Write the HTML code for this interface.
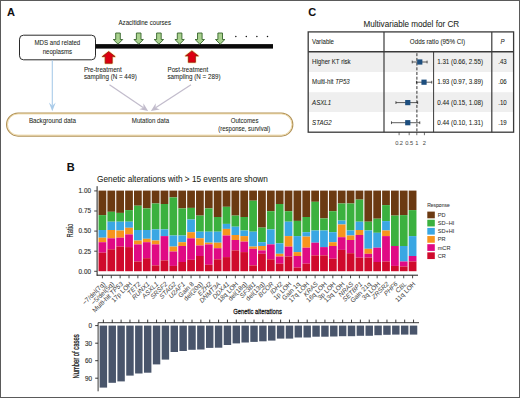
<!DOCTYPE html>
<html><head><meta charset="utf-8"><style>
html,body{margin:0;padding:0;background:#fff;}
body{width:520px;height:398px;overflow:hidden;position:relative;}
svg{position:absolute;left:0;top:0;font-family:"Liberation Sans", sans-serif;}
.frame{position:absolute;left:0;top:0;width:518px;height:396px;border:1px solid #5a5a5a;}
</style></head><body>
<svg width="520" height="398" viewBox="0 0 520 398">
<text x="6.9" y="16.2" font-size="11" text-anchor="start" font-weight="bold" font-style="normal" fill="#111" stroke="#111" stroke-width="0.06" >A</text>
<rect x="19.5" y="35.2" width="76" height="24.6" rx="4" ry="4" fill="#fff" stroke="#2a2a2a" stroke-width="1"/>
<text x="57.4" y="45.4" font-size="6.55" text-anchor="middle" font-weight="normal" font-style="normal" fill="#231f20" stroke="#231f20" stroke-width="0.06" textLength="45.77" lengthAdjust="spacingAndGlyphs" >MDS and related</text>
<text x="57.4" y="53.5" font-size="6.55" text-anchor="middle" font-weight="normal" font-style="normal" fill="#231f20" stroke="#231f20" stroke-width="0.06" textLength="29.50" lengthAdjust="spacingAndGlyphs" >neoplasms</text>
<rect x="95.5" y="44.1" width="177.5" height="4.5" fill="#0a0a0a"/>
<text x="144.8" y="25.2" font-size="6.55" text-anchor="middle" font-weight="normal" font-style="normal" fill="#231f20" stroke="#231f20" stroke-width="0.06" textLength="52.55" lengthAdjust="spacingAndGlyphs" >Azacitidine courses</text>
<path d="M115.7,33.0 L120.3,33.0 L120.3,39.5 L122.7,39.5 L118.0,44.2 L113.3,39.5 L115.7,39.5 Z" fill="#a9d18e" stroke="#35652a" stroke-width="0.9"/>
<path d="M136.39999999999998,33.0 L141.0,33.0 L141.0,39.5 L143.39999999999998,39.5 L138.7,44.2 L134.0,39.5 L136.39999999999998,39.5 Z" fill="#a9d18e" stroke="#35652a" stroke-width="0.9"/>
<path d="M156.6,33.0 L161.20000000000002,33.0 L161.20000000000002,39.5 L163.6,39.5 L158.9,44.2 L154.20000000000002,39.5 L156.6,39.5 Z" fill="#a9d18e" stroke="#35652a" stroke-width="0.9"/>
<path d="M177.29999999999998,33.0 L181.9,33.0 L181.9,39.5 L184.29999999999998,39.5 L179.6,44.2 L174.9,39.5 L177.29999999999998,39.5 Z" fill="#a9d18e" stroke="#35652a" stroke-width="0.9"/>
<path d="M197.5,33.0 L202.10000000000002,33.0 L202.10000000000002,39.5 L204.5,39.5 L199.8,44.2 L195.10000000000002,39.5 L197.5,39.5 Z" fill="#a9d18e" stroke="#35652a" stroke-width="0.9"/>
<path d="M217.89999999999998,33.0 L222.5,33.0 L222.5,39.5 L224.89999999999998,39.5 L220.2,44.2 L215.5,39.5 L217.89999999999998,39.5 Z" fill="#a9d18e" stroke="#35652a" stroke-width="0.9"/>
<circle cx="235.8" cy="36.6" r="0.75" fill="#111"/>
<circle cx="246.3" cy="36.6" r="0.75" fill="#111"/>
<circle cx="256.9" cy="36.6" r="0.75" fill="#111"/>
<circle cx="267.5" cy="36.6" r="0.75" fill="#111"/>
<path d="M108.7,51.6 L115.10000000000001,56.6 L112.2,56.6 L112.2,63.3 L105.2,63.3 L105.2,56.6 L102.3,56.6 Z" fill="none" stroke="#fde9a6" stroke-width="2.2" stroke-linejoin="round" opacity="0.85"/>
<path d="M108.7,51.6 L115.10000000000001,56.6 L112.2,56.6 L112.2,63.3 L105.2,63.3 L105.2,56.6 L102.3,56.6 Z" fill="#dc0010" stroke="#8e1405" stroke-width="0.75" stroke-linejoin="miter"/>
<path d="M191.9,50.9 L198.3,55.9 L195.4,55.9 L195.4,62.3 L188.4,62.3 L188.4,55.9 L185.5,55.9 Z" fill="none" stroke="#fde9a6" stroke-width="2.2" stroke-linejoin="round" opacity="0.85"/>
<path d="M191.9,50.9 L198.3,55.9 L195.4,55.9 L195.4,62.3 L188.4,62.3 L188.4,55.9 L185.5,55.9 Z" fill="#dc0010" stroke="#8e1405" stroke-width="0.75" stroke-linejoin="miter"/>
<text x="83.9" y="72.0" font-size="6.55" text-anchor="start" font-weight="normal" font-style="normal" fill="#231f20" stroke="#231f20" stroke-width="0.06" textLength="37.90" lengthAdjust="spacingAndGlyphs" >Pre-treatment</text>
<text x="83.9" y="79.0" font-size="6.55" text-anchor="start" font-weight="normal" font-style="normal" fill="#231f20" stroke="#231f20" stroke-width="0.06" textLength="52.98" lengthAdjust="spacingAndGlyphs" >sampling (N = 449)</text>
<text x="167.5" y="72.0" font-size="6.55" text-anchor="start" font-weight="normal" font-style="normal" fill="#231f20" stroke="#231f20" stroke-width="0.06" textLength="40.66" lengthAdjust="spacingAndGlyphs" >Post-treatment</text>
<text x="167.5" y="79.0" font-size="6.55" text-anchor="start" font-weight="normal" font-style="normal" fill="#231f20" stroke="#231f20" stroke-width="0.06" textLength="52.98" lengthAdjust="spacingAndGlyphs" >sampling (N = 289)</text>
<line x1="52.3" y1="60.2" x2="52.30" y2="105.70" stroke="#a9cbe9" stroke-width="1.1"/>
<path d="M52.30,111.20 L48.90,102.60 L52.30,105.70 L55.70,102.60 Z" fill="#a9cbe9"/>
<line x1="109.5" y1="84.8" x2="143.46" y2="107.76" stroke="#c2bccc" stroke-width="1.25"/>
<path d="M148.10,110.90 L139.23,109.37 L143.46,107.76 L143.38,103.24 Z" fill="#c2bccc"/>
<line x1="191" y1="84.8" x2="155.59" y2="107.85" stroke="#c2bccc" stroke-width="1.25"/>
<path d="M150.90,110.90 L155.75,103.33 L155.59,107.85 L159.79,109.53 Z" fill="#c2bccc"/>
<rect x="6.6" y="113.0" width="286.2" height="23.0" rx="11.5" ry="11.5" fill="none" stroke="#b39459" stroke-width="1.25"/>
<rect x="7.5" y="113.9" width="284.4" height="21.2" rx="10.6" ry="10.6" fill="none" stroke="#ead196" stroke-width="0.8"/>
<text x="28.9" y="123.0" font-size="6.55" text-anchor="start" font-weight="normal" font-style="normal" fill="#231f20" stroke="#231f20" stroke-width="0.06" textLength="47.03" lengthAdjust="spacingAndGlyphs" >Background data</text>
<text x="131.8" y="123.2" font-size="6.55" text-anchor="start" font-weight="normal" font-style="normal" fill="#231f20" stroke="#231f20" stroke-width="0.06" textLength="37.27" lengthAdjust="spacingAndGlyphs" >Mutation data</text>
<text x="244.6" y="122.95" font-size="6.55" text-anchor="middle" font-weight="normal" font-style="normal" fill="#231f20" stroke="#231f20" stroke-width="0.06" textLength="27.80" lengthAdjust="spacingAndGlyphs" >Outcomes</text>
<text x="244.3" y="130.6" font-size="6.55" text-anchor="middle" font-weight="normal" font-style="normal" fill="#231f20" stroke="#231f20" stroke-width="0.06" textLength="51.91" lengthAdjust="spacingAndGlyphs" >(response, survival)</text>
<text x="308.2" y="16.2" font-size="11" text-anchor="start" font-weight="bold" font-style="normal" fill="#111" stroke="#111" stroke-width="0.06" >C</text>
<text x="411.3" y="26.6" font-size="8.6" text-anchor="middle" font-weight="normal" font-style="normal" fill="#231f20" stroke="#231f20" stroke-width="0.06" textLength="95.67" lengthAdjust="spacingAndGlyphs" >Multivariable model for CR</text>
<rect x="308.3" y="52.2" width="205.2" height="20" fill="#efefef"/>
<rect x="308.3" y="72.2" width="205.2" height="20" fill="#ffffff"/>
<rect x="308.3" y="92.2" width="205.2" height="20" fill="#efefef"/>
<rect x="308.3" y="112.2" width="205.2" height="20" fill="#ffffff"/>
<line x1="416.9" y1="53.2" x2="416.9" y2="132" stroke="#2a2a2a" stroke-width="0.95" stroke-dasharray="3.0,1.7"/>
<line x1="412.23" y1="62.0" x2="427.10" y2="62.0" stroke="#1a1a1a" stroke-width="0.7"/>
<line x1="412.23" y1="60.6" x2="412.23" y2="63.4" stroke="#1a1a1a" stroke-width="0.7"/>
<line x1="427.10" y1="60.6" x2="427.10" y2="63.4" stroke="#1a1a1a" stroke-width="0.7"/>
<rect x="417.17" y="59.4" width="5.2" height="5.2" fill="#1d4e7e"/>
<line x1="416.46" y1="82.2" x2="431.74" y2="82.2" stroke="#1a1a1a" stroke-width="0.7"/>
<line x1="416.46" y1="80.8" x2="416.46" y2="83.60000000000001" stroke="#1a1a1a" stroke-width="0.7"/>
<line x1="431.74" y1="80.8" x2="431.74" y2="83.60000000000001" stroke="#1a1a1a" stroke-width="0.7"/>
<rect x="421.43" y="79.60000000000001" width="5.2" height="5.2" fill="#1d4e7e"/>
<line x1="395.93" y1="102.6" x2="417.65" y2="102.6" stroke="#1a1a1a" stroke-width="0.7"/>
<line x1="395.93" y1="101.19999999999999" x2="395.93" y2="104.0" stroke="#1a1a1a" stroke-width="0.7"/>
<line x1="417.65" y1="101.19999999999999" x2="417.65" y2="104.0" stroke="#1a1a1a" stroke-width="0.7"/>
<rect x="405.17" y="100.0" width="5.2" height="5.2" fill="#1d4e7e"/>
<line x1="391.47" y1="122.7" x2="419.77" y2="122.7" stroke="#1a1a1a" stroke-width="0.7"/>
<line x1="391.47" y1="121.3" x2="391.47" y2="124.10000000000001" stroke="#1a1a1a" stroke-width="0.7"/>
<line x1="419.77" y1="121.3" x2="419.77" y2="124.10000000000001" stroke="#1a1a1a" stroke-width="0.7"/>
<rect x="405.17" y="120.10000000000001" width="5.2" height="5.2" fill="#1d4e7e"/>
<rect x="308.2" y="31.9" width="205.4" height="100.3" fill="none" stroke="#3a3a3a" stroke-width="1.3"/>
<line x1="308.2" y1="51.7" x2="513.6" y2="51.7" stroke="#3a3a3a" stroke-width="1.5"/>
<line x1="384" y1="31.9" x2="384" y2="132.2" stroke="#3a3a3a" stroke-width="1.2"/>
<line x1="491.8" y1="31.9" x2="491.8" y2="132.2" stroke="#3a3a3a" stroke-width="1.2"/>
<line x1="433.6" y1="51.7" x2="433.6" y2="132.2" stroke="#3a3a3a" stroke-width="1.0"/>
<line x1="399.10" y1="132.2" x2="399.10" y2="135.2" stroke="#333" stroke-width="0.7"/>
<line x1="409.18" y1="132.2" x2="409.18" y2="135.2" stroke="#333" stroke-width="0.7"/>
<line x1="416.80" y1="132.2" x2="416.80" y2="135.2" stroke="#333" stroke-width="0.7"/>
<line x1="424.42" y1="132.2" x2="424.42" y2="135.2" stroke="#333" stroke-width="0.7"/>
<text x="399.0961829632249" y="144.8" font-size="5.7" text-anchor="middle" font-weight="normal" font-style="normal" fill="#444" stroke="#444" stroke-width="0" >0.2</text>
<text x="409.1753810138406" y="144.8" font-size="5.7" text-anchor="middle" font-weight="normal" font-style="normal" fill="#444" stroke="#444" stroke-width="0" >0.5</text>
<text x="416.8" y="144.8" font-size="5.7" text-anchor="middle" font-weight="normal" font-style="normal" fill="#444" stroke="#444" stroke-width="0" >1</text>
<text x="424.42461898615943" y="144.8" font-size="5.7" text-anchor="middle" font-weight="normal" font-style="normal" fill="#444" stroke="#444" stroke-width="0" >2</text>
<text x="312.1" y="43.9" font-size="6.55" text-anchor="start" font-weight="normal" font-style="normal" fill="#231f20" stroke="#231f20" stroke-width="0.06" textLength="21.93" lengthAdjust="spacingAndGlyphs" >Variable</text>
<text x="437.5" y="43.9" font-size="6.55" text-anchor="middle" font-weight="normal" font-style="normal" fill="#231f20" stroke="#231f20" stroke-width="0.06" textLength="55.40" lengthAdjust="spacingAndGlyphs" >Odds ratio (95% CI)</text>
<text x="502.5" y="43.9" font-size="6.55" text-anchor="middle" font-weight="normal" font-style="italic" fill="#231f20" stroke="#231f20" stroke-width="0.06" textLength="4.07" lengthAdjust="spacingAndGlyphs" >P</text>
<text x="312.1" y="64.1" font-size="6.55" fill="#231f20" stroke="#231f20" stroke-width="0.06" textLength="38.53" lengthAdjust="spacingAndGlyphs">Higher KT risk<tspan font-style="italic"></tspan></text>
<text x="437.2" y="64.1" font-size="6.55" text-anchor="start" font-weight="normal" font-style="normal" fill="#231f20" stroke="#231f20" stroke-width="0.06" textLength="45.79" lengthAdjust="spacingAndGlyphs" >1.31 (0.66, 2.55)</text>
<text x="502.5" y="64.1" font-size="6.55" text-anchor="middle" font-weight="normal" font-style="normal" fill="#231f20" stroke="#231f20" stroke-width="0.06" textLength="8.48" lengthAdjust="spacingAndGlyphs" >.43</text>
<text x="312.1" y="84.3" font-size="6.55" fill="#231f20" stroke="#231f20" stroke-width="0.06" textLength="37.63" lengthAdjust="spacingAndGlyphs">Multi-hit <tspan font-style="italic">TP53</tspan></text>
<text x="437.2" y="84.3" font-size="6.55" text-anchor="start" font-weight="normal" font-style="normal" fill="#231f20" stroke="#231f20" stroke-width="0.06" textLength="45.79" lengthAdjust="spacingAndGlyphs" >1.93 (0.97, 3.89)</text>
<text x="502.5" y="84.3" font-size="6.55" text-anchor="middle" font-weight="normal" font-style="normal" fill="#231f20" stroke="#231f20" stroke-width="0.06" textLength="8.48" lengthAdjust="spacingAndGlyphs" >.06</text>
<text x="312.1" y="104.5" font-size="6.55" fill="#231f20" stroke="#231f20" stroke-width="0.06" textLength="18.99" lengthAdjust="spacingAndGlyphs"><tspan font-style="italic">ASXL1</tspan></text>
<text x="437.2" y="104.5" font-size="6.55" text-anchor="start" font-weight="normal" font-style="normal" fill="#231f20" stroke="#231f20" stroke-width="0.06" textLength="45.79" lengthAdjust="spacingAndGlyphs" >0.44 (0.15, 1.08)</text>
<text x="502.5" y="104.5" font-size="6.55" text-anchor="middle" font-weight="normal" font-style="normal" fill="#231f20" stroke="#231f20" stroke-width="0.06" textLength="8.48" lengthAdjust="spacingAndGlyphs" >.10</text>
<text x="312.1" y="124.69999999999999" font-size="6.55" fill="#231f20" stroke="#231f20" stroke-width="0.06" textLength="19.55" lengthAdjust="spacingAndGlyphs"><tspan font-style="italic">STAG2</tspan></text>
<text x="437.2" y="124.69999999999999" font-size="6.55" text-anchor="start" font-weight="normal" font-style="normal" fill="#231f20" stroke="#231f20" stroke-width="0.06" textLength="45.79" lengthAdjust="spacingAndGlyphs" >0.44 (0.10, 1.31)</text>
<text x="502.5" y="124.69999999999999" font-size="6.55" text-anchor="middle" font-weight="normal" font-style="normal" fill="#231f20" stroke="#231f20" stroke-width="0.06" textLength="8.48" lengthAdjust="spacingAndGlyphs" >.19</text>
<text x="66.8" y="170.6" font-size="11" text-anchor="start" font-weight="bold" font-style="normal" fill="#111" stroke="#111" stroke-width="0.06" >B</text>
<text x="97.1" y="181.7" font-size="8.6" text-anchor="start" font-weight="normal" font-style="normal" fill="#231f20" stroke="#231f20" stroke-width="0.06" textLength="170.66" lengthAdjust="spacingAndGlyphs" >Genetic alterations with &gt; 15 events are shown</text>
<rect x="98.55" y="190.60" width="7.75" height="24.50" fill="#6b3a12"/>
<rect x="98.55" y="215.10" width="7.75" height="14.90" fill="#3bb13f"/>
<rect x="98.55" y="230.00" width="7.75" height="7.70" fill="#3aa7e3"/>
<rect x="98.55" y="237.70" width="7.75" height="4.50" fill="#f7941d"/>
<rect x="98.55" y="242.20" width="7.75" height="10.50" fill="#e00a84"/>
<rect x="98.55" y="252.70" width="7.75" height="18.50" fill="#cf0a2c"/>
<rect x="107.41" y="190.60" width="7.75" height="21.20" fill="#6b3a12"/>
<rect x="107.41" y="211.80" width="7.75" height="9.90" fill="#3bb13f"/>
<rect x="107.41" y="221.70" width="7.75" height="8.30" fill="#3aa7e3"/>
<rect x="107.41" y="230.00" width="7.75" height="8.30" fill="#f7941d"/>
<rect x="107.41" y="238.30" width="7.75" height="11.00" fill="#e00a84"/>
<rect x="107.41" y="249.30" width="7.75" height="21.90" fill="#cf0a2c"/>
<rect x="116.27" y="190.60" width="7.75" height="22.30" fill="#6b3a12"/>
<rect x="116.27" y="212.90" width="7.75" height="8.80" fill="#3bb13f"/>
<rect x="116.27" y="221.70" width="7.75" height="8.80" fill="#3aa7e3"/>
<rect x="116.27" y="230.50" width="7.75" height="7.20" fill="#f7941d"/>
<rect x="116.27" y="237.70" width="7.75" height="8.90" fill="#e00a84"/>
<rect x="116.27" y="246.60" width="7.75" height="24.60" fill="#cf0a2c"/>
<rect x="125.14" y="190.60" width="7.75" height="19.50" fill="#6b3a12"/>
<rect x="125.14" y="210.10" width="7.75" height="11.60" fill="#3bb13f"/>
<rect x="125.14" y="221.70" width="7.75" height="6.10" fill="#3aa7e3"/>
<rect x="125.14" y="227.80" width="7.75" height="6.60" fill="#f7941d"/>
<rect x="125.14" y="234.40" width="7.75" height="12.70" fill="#e00a84"/>
<rect x="125.14" y="247.10" width="7.75" height="24.10" fill="#cf0a2c"/>
<rect x="134.00" y="190.60" width="7.75" height="15.10" fill="#6b3a12"/>
<rect x="134.00" y="205.70" width="7.75" height="24.30" fill="#3bb13f"/>
<rect x="134.00" y="230.00" width="7.75" height="10.50" fill="#3aa7e3"/>
<rect x="134.00" y="240.50" width="7.75" height="3.90" fill="#f7941d"/>
<rect x="134.00" y="244.40" width="7.75" height="17.10" fill="#e00a84"/>
<rect x="134.00" y="261.50" width="7.75" height="9.70" fill="#cf0a2c"/>
<rect x="142.86" y="190.60" width="7.75" height="17.80" fill="#6b3a12"/>
<rect x="142.86" y="208.40" width="7.75" height="21.60" fill="#3bb13f"/>
<rect x="142.86" y="230.00" width="7.75" height="8.80" fill="#3aa7e3"/>
<rect x="142.86" y="238.80" width="7.75" height="3.40" fill="#f7941d"/>
<rect x="142.86" y="242.20" width="7.75" height="16.00" fill="#e00a84"/>
<rect x="142.86" y="258.20" width="7.75" height="13.00" fill="#cf0a2c"/>
<rect x="151.72" y="190.60" width="7.75" height="12.90" fill="#6b3a12"/>
<rect x="151.72" y="203.50" width="7.75" height="25.90" fill="#3bb13f"/>
<rect x="151.72" y="229.40" width="7.75" height="11.10" fill="#3aa7e3"/>
<rect x="151.72" y="240.50" width="7.75" height="3.90" fill="#f7941d"/>
<rect x="151.72" y="244.40" width="7.75" height="21.00" fill="#e00a84"/>
<rect x="151.72" y="265.40" width="7.75" height="5.80" fill="#cf0a2c"/>
<rect x="160.58" y="190.60" width="7.75" height="13.40" fill="#6b3a12"/>
<rect x="160.58" y="204.00" width="7.75" height="25.40" fill="#3bb13f"/>
<rect x="160.58" y="229.40" width="7.75" height="6.70" fill="#3aa7e3"/>
<rect x="160.58" y="236.10" width="7.75" height="24.30" fill="#e00a84"/>
<rect x="160.58" y="260.40" width="7.75" height="10.80" fill="#cf0a2c"/>
<rect x="169.45" y="190.60" width="7.75" height="6.80" fill="#6b3a12"/>
<rect x="169.45" y="197.40" width="7.75" height="38.10" fill="#3bb13f"/>
<rect x="169.45" y="235.50" width="7.75" height="11.10" fill="#3aa7e3"/>
<rect x="169.45" y="246.60" width="7.75" height="4.90" fill="#f7941d"/>
<rect x="169.45" y="251.50" width="7.75" height="14.40" fill="#e00a84"/>
<rect x="169.45" y="265.90" width="7.75" height="5.30" fill="#cf0a2c"/>
<rect x="178.31" y="190.60" width="7.75" height="17.80" fill="#6b3a12"/>
<rect x="178.31" y="208.40" width="7.75" height="27.10" fill="#3bb13f"/>
<rect x="178.31" y="235.50" width="7.75" height="6.70" fill="#3aa7e3"/>
<rect x="178.31" y="242.20" width="7.75" height="3.80" fill="#f7941d"/>
<rect x="178.31" y="246.00" width="7.75" height="16.00" fill="#e00a84"/>
<rect x="178.31" y="262.00" width="7.75" height="9.20" fill="#cf0a2c"/>
<rect x="187.17" y="190.60" width="7.75" height="17.30" fill="#6b3a12"/>
<rect x="187.17" y="207.90" width="7.75" height="11.60" fill="#3bb13f"/>
<rect x="187.17" y="219.50" width="7.75" height="12.70" fill="#3aa7e3"/>
<rect x="187.17" y="232.20" width="7.75" height="6.10" fill="#f7941d"/>
<rect x="187.17" y="238.30" width="7.75" height="21.50" fill="#e00a84"/>
<rect x="187.17" y="259.80" width="7.75" height="11.40" fill="#cf0a2c"/>
<rect x="196.03" y="190.60" width="7.75" height="25.00" fill="#6b3a12"/>
<rect x="196.03" y="215.60" width="7.75" height="16.10" fill="#3bb13f"/>
<rect x="196.03" y="231.70" width="7.75" height="6.60" fill="#3aa7e3"/>
<rect x="196.03" y="238.30" width="7.75" height="7.20" fill="#f7941d"/>
<rect x="196.03" y="245.50" width="7.75" height="10.50" fill="#e00a84"/>
<rect x="196.03" y="256.00" width="7.75" height="15.20" fill="#cf0a2c"/>
<rect x="204.89" y="190.60" width="7.75" height="17.80" fill="#6b3a12"/>
<rect x="204.89" y="208.40" width="7.75" height="23.30" fill="#3bb13f"/>
<rect x="204.89" y="231.70" width="7.75" height="11.00" fill="#3aa7e3"/>
<rect x="204.89" y="242.70" width="7.75" height="1.70" fill="#f7941d"/>
<rect x="204.89" y="244.40" width="7.75" height="20.40" fill="#e00a84"/>
<rect x="204.89" y="264.80" width="7.75" height="6.40" fill="#cf0a2c"/>
<rect x="213.76" y="190.60" width="7.75" height="26.40" fill="#6b3a12"/>
<rect x="213.76" y="217.00" width="7.75" height="14.70" fill="#3bb13f"/>
<rect x="213.76" y="231.70" width="7.75" height="11.00" fill="#3aa7e3"/>
<rect x="213.76" y="242.70" width="7.75" height="5.50" fill="#f7941d"/>
<rect x="213.76" y="248.20" width="7.75" height="11.10" fill="#e00a84"/>
<rect x="213.76" y="259.30" width="7.75" height="11.90" fill="#cf0a2c"/>
<rect x="222.62" y="190.60" width="7.75" height="16.20" fill="#6b3a12"/>
<rect x="222.62" y="206.80" width="7.75" height="17.10" fill="#3bb13f"/>
<rect x="222.62" y="223.90" width="7.75" height="5.00" fill="#3aa7e3"/>
<rect x="222.62" y="228.90" width="7.75" height="6.60" fill="#f7941d"/>
<rect x="222.62" y="235.50" width="7.75" height="21.60" fill="#e00a84"/>
<rect x="222.62" y="257.10" width="7.75" height="14.10" fill="#cf0a2c"/>
<rect x="231.48" y="190.60" width="7.75" height="25.00" fill="#6b3a12"/>
<rect x="231.48" y="215.60" width="7.75" height="11.10" fill="#3bb13f"/>
<rect x="231.48" y="226.70" width="7.75" height="8.30" fill="#3aa7e3"/>
<rect x="231.48" y="235.00" width="7.75" height="5.00" fill="#f7941d"/>
<rect x="231.48" y="240.00" width="7.75" height="10.40" fill="#e00a84"/>
<rect x="231.48" y="250.40" width="7.75" height="20.80" fill="#cf0a2c"/>
<rect x="240.34" y="190.60" width="7.75" height="26.40" fill="#6b3a12"/>
<rect x="240.34" y="217.00" width="7.75" height="13.50" fill="#3bb13f"/>
<rect x="240.34" y="230.50" width="7.75" height="5.60" fill="#3aa7e3"/>
<rect x="240.34" y="236.10" width="7.75" height="5.50" fill="#f7941d"/>
<rect x="240.34" y="241.60" width="7.75" height="10.50" fill="#e00a84"/>
<rect x="240.34" y="252.10" width="7.75" height="19.10" fill="#cf0a2c"/>
<rect x="249.20" y="190.60" width="7.75" height="10.10" fill="#6b3a12"/>
<rect x="249.20" y="200.70" width="7.75" height="31.00" fill="#3bb13f"/>
<rect x="249.20" y="231.70" width="7.75" height="14.90" fill="#3aa7e3"/>
<rect x="249.20" y="246.60" width="7.75" height="2.20" fill="#f7941d"/>
<rect x="249.20" y="248.80" width="7.75" height="16.60" fill="#e00a84"/>
<rect x="249.20" y="265.40" width="7.75" height="5.80" fill="#cf0a2c"/>
<rect x="258.07" y="190.60" width="7.75" height="37.00" fill="#6b3a12"/>
<rect x="258.07" y="227.60" width="7.75" height="14.60" fill="#3bb13f"/>
<rect x="258.07" y="242.20" width="7.75" height="3.80" fill="#3aa7e3"/>
<rect x="258.07" y="246.00" width="7.75" height="4.40" fill="#f7941d"/>
<rect x="258.07" y="250.40" width="7.75" height="3.40" fill="#e00a84"/>
<rect x="258.07" y="253.80" width="7.75" height="17.40" fill="#cf0a2c"/>
<rect x="266.93" y="190.60" width="7.75" height="20.60" fill="#6b3a12"/>
<rect x="266.93" y="211.20" width="7.75" height="18.20" fill="#3bb13f"/>
<rect x="266.93" y="229.40" width="7.75" height="15.00" fill="#3aa7e3"/>
<rect x="266.93" y="244.40" width="7.75" height="14.90" fill="#e00a84"/>
<rect x="266.93" y="259.30" width="7.75" height="11.90" fill="#cf0a2c"/>
<rect x="275.79" y="190.60" width="7.75" height="13.40" fill="#6b3a12"/>
<rect x="275.79" y="204.00" width="7.75" height="39.30" fill="#3bb13f"/>
<rect x="275.79" y="243.30" width="7.75" height="10.50" fill="#3aa7e3"/>
<rect x="275.79" y="253.80" width="7.75" height="2.70" fill="#f7941d"/>
<rect x="275.79" y="256.50" width="7.75" height="7.20" fill="#e00a84"/>
<rect x="275.79" y="263.70" width="7.75" height="7.50" fill="#cf0a2c"/>
<rect x="284.65" y="190.60" width="7.75" height="20.60" fill="#6b3a12"/>
<rect x="284.65" y="211.20" width="7.75" height="10.50" fill="#3bb13f"/>
<rect x="284.65" y="221.70" width="7.75" height="14.40" fill="#3aa7e3"/>
<rect x="284.65" y="236.10" width="7.75" height="10.50" fill="#f7941d"/>
<rect x="284.65" y="246.60" width="7.75" height="9.90" fill="#e00a84"/>
<rect x="284.65" y="256.50" width="7.75" height="14.70" fill="#cf0a2c"/>
<rect x="293.51" y="190.60" width="7.75" height="30.30" fill="#6b3a12"/>
<rect x="293.51" y="220.90" width="7.75" height="15.20" fill="#3bb13f"/>
<rect x="293.51" y="236.10" width="7.75" height="16.00" fill="#3aa7e3"/>
<rect x="293.51" y="252.10" width="7.75" height="3.90" fill="#f7941d"/>
<rect x="293.51" y="256.00" width="7.75" height="11.60" fill="#e00a84"/>
<rect x="293.51" y="267.60" width="7.75" height="3.60" fill="#cf0a2c"/>
<rect x="302.38" y="190.60" width="7.75" height="26.40" fill="#6b3a12"/>
<rect x="302.38" y="217.00" width="7.75" height="15.20" fill="#3bb13f"/>
<rect x="302.38" y="232.20" width="7.75" height="4.40" fill="#3aa7e3"/>
<rect x="302.38" y="236.60" width="7.75" height="11.10" fill="#f7941d"/>
<rect x="302.38" y="247.70" width="7.75" height="16.00" fill="#e00a84"/>
<rect x="302.38" y="263.70" width="7.75" height="7.50" fill="#cf0a2c"/>
<rect x="311.24" y="190.60" width="7.75" height="11.20" fill="#6b3a12"/>
<rect x="311.24" y="201.80" width="7.75" height="28.70" fill="#3bb13f"/>
<rect x="311.24" y="230.50" width="7.75" height="12.20" fill="#3aa7e3"/>
<rect x="311.24" y="242.70" width="7.75" height="12.70" fill="#e00a84"/>
<rect x="311.24" y="255.40" width="7.75" height="15.80" fill="#cf0a2c"/>
<rect x="320.10" y="190.60" width="7.75" height="27.80" fill="#6b3a12"/>
<rect x="320.10" y="218.40" width="7.75" height="12.10" fill="#3bb13f"/>
<rect x="320.10" y="230.50" width="7.75" height="16.60" fill="#3aa7e3"/>
<rect x="320.10" y="247.10" width="7.75" height="8.30" fill="#e00a84"/>
<rect x="320.10" y="255.40" width="7.75" height="15.80" fill="#cf0a2c"/>
<rect x="328.96" y="190.60" width="7.75" height="20.60" fill="#6b3a12"/>
<rect x="328.96" y="211.20" width="7.75" height="21.00" fill="#3bb13f"/>
<rect x="328.96" y="232.20" width="7.75" height="10.00" fill="#3aa7e3"/>
<rect x="328.96" y="242.20" width="7.75" height="3.80" fill="#f7941d"/>
<rect x="328.96" y="246.00" width="7.75" height="12.70" fill="#e00a84"/>
<rect x="328.96" y="258.70" width="7.75" height="12.50" fill="#cf0a2c"/>
<rect x="337.82" y="190.60" width="7.75" height="12.90" fill="#6b3a12"/>
<rect x="337.82" y="203.50" width="7.75" height="17.10" fill="#3bb13f"/>
<rect x="337.82" y="220.60" width="7.75" height="3.90" fill="#3aa7e3"/>
<rect x="337.82" y="224.50" width="7.75" height="12.70" fill="#f7941d"/>
<rect x="337.82" y="237.20" width="7.75" height="12.70" fill="#e00a84"/>
<rect x="337.82" y="249.90" width="7.75" height="21.30" fill="#cf0a2c"/>
<rect x="346.69" y="190.60" width="7.75" height="12.90" fill="#6b3a12"/>
<rect x="346.69" y="203.50" width="7.75" height="27.00" fill="#3bb13f"/>
<rect x="346.69" y="230.50" width="7.75" height="5.00" fill="#3aa7e3"/>
<rect x="346.69" y="235.50" width="7.75" height="4.50" fill="#f7941d"/>
<rect x="346.69" y="240.00" width="7.75" height="13.20" fill="#e00a84"/>
<rect x="346.69" y="253.20" width="7.75" height="18.00" fill="#cf0a2c"/>
<rect x="355.55" y="190.60" width="7.75" height="9.00" fill="#6b3a12"/>
<rect x="355.55" y="199.60" width="7.75" height="22.10" fill="#3bb13f"/>
<rect x="355.55" y="221.70" width="7.75" height="8.30" fill="#3aa7e3"/>
<rect x="355.55" y="230.00" width="7.75" height="5.00" fill="#f7941d"/>
<rect x="355.55" y="235.00" width="7.75" height="22.60" fill="#e00a84"/>
<rect x="355.55" y="257.60" width="7.75" height="13.60" fill="#cf0a2c"/>
<rect x="364.41" y="190.60" width="7.75" height="31.10" fill="#6b3a12"/>
<rect x="364.41" y="221.70" width="7.75" height="8.80" fill="#3bb13f"/>
<rect x="364.41" y="230.50" width="7.75" height="18.30" fill="#3aa7e3"/>
<rect x="364.41" y="248.80" width="7.75" height="5.00" fill="#f7941d"/>
<rect x="364.41" y="253.80" width="7.75" height="3.80" fill="#e00a84"/>
<rect x="364.41" y="257.60" width="7.75" height="13.60" fill="#cf0a2c"/>
<rect x="373.27" y="190.60" width="7.75" height="28.10" fill="#6b3a12"/>
<rect x="373.27" y="218.70" width="7.75" height="14.10" fill="#3bb13f"/>
<rect x="373.27" y="232.80" width="7.75" height="14.90" fill="#3aa7e3"/>
<rect x="373.27" y="247.70" width="7.75" height="14.30" fill="#e00a84"/>
<rect x="373.27" y="262.00" width="7.75" height="9.20" fill="#cf0a2c"/>
<rect x="382.13" y="190.60" width="7.75" height="14.50" fill="#6b3a12"/>
<rect x="382.13" y="205.10" width="7.75" height="16.00" fill="#3bb13f"/>
<rect x="382.13" y="221.10" width="7.75" height="9.40" fill="#3aa7e3"/>
<rect x="382.13" y="230.50" width="7.75" height="5.60" fill="#f7941d"/>
<rect x="382.13" y="236.10" width="7.75" height="25.40" fill="#e00a84"/>
<rect x="382.13" y="261.50" width="7.75" height="9.70" fill="#cf0a2c"/>
<rect x="391.00" y="190.60" width="7.75" height="25.00" fill="#6b3a12"/>
<rect x="391.00" y="215.60" width="7.75" height="30.40" fill="#3bb13f"/>
<rect x="391.00" y="246.00" width="7.75" height="19.90" fill="#e00a84"/>
<rect x="391.00" y="265.90" width="7.75" height="5.30" fill="#cf0a2c"/>
<rect x="399.86" y="190.60" width="7.75" height="24.50" fill="#6b3a12"/>
<rect x="399.86" y="215.10" width="7.75" height="30.90" fill="#3bb13f"/>
<rect x="399.86" y="246.00" width="7.75" height="15.50" fill="#3aa7e3"/>
<rect x="399.86" y="261.50" width="7.75" height="5.00" fill="#e00a84"/>
<rect x="399.86" y="266.50" width="7.75" height="4.70" fill="#cf0a2c"/>
<rect x="408.72" y="190.60" width="7.75" height="19.50" fill="#6b3a12"/>
<rect x="408.72" y="210.10" width="7.75" height="26.00" fill="#3bb13f"/>
<rect x="408.72" y="236.10" width="7.75" height="19.90" fill="#3aa7e3"/>
<rect x="408.72" y="256.00" width="7.75" height="5.50" fill="#e00a84"/>
<rect x="408.72" y="261.50" width="7.75" height="9.70" fill="#cf0a2c"/>
<line x1="97.1" y1="186.2" x2="97.1" y2="275.6" stroke="#222" stroke-width="1.0"/>
<line x1="96.7" y1="275.2" x2="418" y2="275.2" stroke="#1a1a1a" stroke-width="1.0"/>
<line x1="94.2" y1="190.9" x2="97.1" y2="190.9" stroke="#333" stroke-width="0.9"/>
<text x="91.0" y="193.20000000000002" font-size="6.4" text-anchor="end" font-weight="normal" font-style="normal" fill="#333" stroke="#333" stroke-width="0.14" >1.00</text>
<line x1="94.2" y1="211.0" x2="97.1" y2="211.0" stroke="#333" stroke-width="0.9"/>
<text x="91.0" y="213.3" font-size="6.4" text-anchor="end" font-weight="normal" font-style="normal" fill="#333" stroke="#333" stroke-width="0.14" >0.75</text>
<line x1="94.2" y1="231.1" x2="97.1" y2="231.1" stroke="#333" stroke-width="0.9"/>
<text x="91.0" y="233.40000000000003" font-size="6.4" text-anchor="end" font-weight="normal" font-style="normal" fill="#333" stroke="#333" stroke-width="0.14" >0.50</text>
<line x1="94.2" y1="251.2" x2="97.1" y2="251.2" stroke="#333" stroke-width="0.9"/>
<text x="91.0" y="253.50000000000003" font-size="6.4" text-anchor="end" font-weight="normal" font-style="normal" fill="#333" stroke="#333" stroke-width="0.14" >0.25</text>
<line x1="94.2" y1="271.3" x2="97.1" y2="271.3" stroke="#333" stroke-width="0.9"/>
<text x="91.0" y="273.6" font-size="6.4" text-anchor="end" font-weight="normal" font-style="normal" fill="#333" stroke="#333" stroke-width="0.14" >0.00</text>
<text transform="translate(73.4,230.7) rotate(-90) scale(0.72,1)" font-size="8.2" text-anchor="middle" fill="#1a1a1a" stroke="#1a1a1a" stroke-width="0.12">Ratio</text>
<line x1="102.42" y1="275.2" x2="102.42" y2="278.3" stroke="#333" stroke-width="0.9"/>
<text transform="translate(105.72,284.4) rotate(-45)" font-size="6.5" text-anchor="end" font-style="normal" fill="#444" stroke="#444" stroke-width="0.03">−7/del(7q)</text>
<line x1="111.29" y1="275.2" x2="111.29" y2="278.3" stroke="#333" stroke-width="0.9"/>
<text transform="translate(114.59,284.4) rotate(-45)" font-size="6.5" text-anchor="end" font-style="normal" fill="#444" stroke="#444" stroke-width="0.03">−5/del(5q)</text>
<line x1="120.15" y1="275.2" x2="120.15" y2="278.3" stroke="#333" stroke-width="0.9"/>
<text transform="translate(123.45,284.4) rotate(-45)" font-size="6.5" text-anchor="end" font-style="normal" fill="#444" stroke="#444" stroke-width="0.03">Multi-hit <tspan font-style="italic">TP53</tspan></text>
<line x1="129.01" y1="275.2" x2="129.01" y2="278.3" stroke="#333" stroke-width="0.9"/>
<text transform="translate(132.31,284.4) rotate(-45)" font-size="6.5" text-anchor="end" font-style="normal" fill="#444" stroke="#444" stroke-width="0.03">17p LOH</text>
<line x1="137.87" y1="275.2" x2="137.87" y2="278.3" stroke="#333" stroke-width="0.9"/>
<text transform="translate(141.17,284.4) rotate(-45)" font-size="6.5" text-anchor="end" font-style="italic" fill="#444" stroke="#444" stroke-width="0.03">TET2</text>
<line x1="146.74" y1="275.2" x2="146.74" y2="278.3" stroke="#333" stroke-width="0.9"/>
<text transform="translate(150.04,284.4) rotate(-45)" font-size="6.5" text-anchor="end" font-style="italic" fill="#444" stroke="#444" stroke-width="0.03">RUNX1</text>
<line x1="155.60" y1="275.2" x2="155.60" y2="278.3" stroke="#333" stroke-width="0.9"/>
<text transform="translate(158.90,284.4) rotate(-45)" font-size="6.5" text-anchor="end" font-style="italic" fill="#444" stroke="#444" stroke-width="0.03">ASXL1</text>
<line x1="164.46" y1="275.2" x2="164.46" y2="278.3" stroke="#333" stroke-width="0.9"/>
<text transform="translate(167.76,284.4) rotate(-45)" font-size="6.5" text-anchor="end" font-style="italic" fill="#444" stroke="#444" stroke-width="0.03">SRSF2</text>
<line x1="173.32" y1="275.2" x2="173.32" y2="278.3" stroke="#333" stroke-width="0.9"/>
<text transform="translate(176.62,284.4) rotate(-45)" font-size="6.5" text-anchor="end" font-style="italic" fill="#444" stroke="#444" stroke-width="0.03">STAG2</text>
<line x1="182.18" y1="275.2" x2="182.18" y2="278.3" stroke="#333" stroke-width="0.9"/>
<text transform="translate(185.48,284.4) rotate(-45)" font-size="6.5" text-anchor="end" font-style="italic" fill="#444" stroke="#444" stroke-width="0.03">U2AF1</text>
<line x1="191.05" y1="275.2" x2="191.05" y2="278.3" stroke="#333" stroke-width="0.9"/>
<text transform="translate(194.35,284.4) rotate(-45)" font-size="6.5" text-anchor="end" font-style="normal" fill="#444" stroke="#444" stroke-width="0.03">Gain 8</text>
<line x1="199.91" y1="275.2" x2="199.91" y2="278.3" stroke="#333" stroke-width="0.9"/>
<text transform="translate(203.21,284.4) rotate(-45)" font-size="6.5" text-anchor="end" font-style="normal" fill="#444" stroke="#444" stroke-width="0.03">del(20q)</text>
<line x1="208.77" y1="275.2" x2="208.77" y2="278.3" stroke="#333" stroke-width="0.9"/>
<text transform="translate(212.07,284.4) rotate(-45)" font-size="6.5" text-anchor="end" font-style="italic" fill="#444" stroke="#444" stroke-width="0.03">EZH2</text>
<line x1="217.63" y1="275.2" x2="217.63" y2="278.3" stroke="#333" stroke-width="0.9"/>
<text transform="translate(220.93,284.4) rotate(-45)" font-size="6.5" text-anchor="end" font-style="italic" fill="#444" stroke="#444" stroke-width="0.03">DNMT3A</text>
<line x1="226.49" y1="275.2" x2="226.49" y2="278.3" stroke="#333" stroke-width="0.9"/>
<text transform="translate(229.79,284.4) rotate(-45)" font-size="6.5" text-anchor="end" font-style="italic" fill="#444" stroke="#444" stroke-width="0.03">DDX41</text>
<line x1="235.36" y1="275.2" x2="235.36" y2="278.3" stroke="#333" stroke-width="0.9"/>
<text transform="translate(238.66,284.4) rotate(-45)" font-size="6.5" text-anchor="end" font-style="normal" fill="#444" stroke="#444" stroke-width="0.03">18q LOH</text>
<line x1="244.22" y1="275.2" x2="244.22" y2="278.3" stroke="#333" stroke-width="0.9"/>
<text transform="translate(247.52,284.4) rotate(-45)" font-size="6.5" text-anchor="end" font-style="normal" fill="#444" stroke="#444" stroke-width="0.03">del(18q)</text>
<line x1="253.08" y1="275.2" x2="253.08" y2="278.3" stroke="#333" stroke-width="0.9"/>
<text transform="translate(256.38,284.4) rotate(-45)" font-size="6.5" text-anchor="end" font-style="italic" fill="#444" stroke="#444" stroke-width="0.03">SF3B1</text>
<line x1="261.94" y1="275.2" x2="261.94" y2="278.3" stroke="#333" stroke-width="0.9"/>
<text transform="translate(265.24,284.4) rotate(-45)" font-size="6.5" text-anchor="end" font-style="normal" fill="#444" stroke="#444" stroke-width="0.03">del(13q)</text>
<line x1="270.80" y1="275.2" x2="270.80" y2="278.3" stroke="#333" stroke-width="0.9"/>
<text transform="translate(274.10,284.4) rotate(-45)" font-size="6.5" text-anchor="end" font-style="italic" fill="#444" stroke="#444" stroke-width="0.03">BCOR</text>
<line x1="279.67" y1="275.2" x2="279.67" y2="278.3" stroke="#333" stroke-width="0.9"/>
<text transform="translate(282.97,284.4) rotate(-45)" font-size="6.5" text-anchor="end" font-style="italic" fill="#444" stroke="#444" stroke-width="0.03">IDH2</text>
<line x1="288.53" y1="275.2" x2="288.53" y2="278.3" stroke="#333" stroke-width="0.9"/>
<text transform="translate(291.83,284.4) rotate(-45)" font-size="6.5" text-anchor="end" font-style="normal" fill="#444" stroke="#444" stroke-width="0.03">1p LOH</text>
<line x1="297.39" y1="275.2" x2="297.39" y2="278.3" stroke="#333" stroke-width="0.9"/>
<text transform="translate(300.69,284.4) rotate(-45)" font-size="6.5" text-anchor="end" font-style="normal" fill="#444" stroke="#444" stroke-width="0.03">Gain 1q</text>
<line x1="306.25" y1="275.2" x2="306.25" y2="278.3" stroke="#333" stroke-width="0.9"/>
<text transform="translate(309.55,284.4) rotate(-45)" font-size="6.5" text-anchor="end" font-style="normal" fill="#444" stroke="#444" stroke-width="0.03">17q LOH</text>
<line x1="315.11" y1="275.2" x2="315.11" y2="278.3" stroke="#333" stroke-width="0.9"/>
<text transform="translate(318.41,284.4) rotate(-45)" font-size="6.5" text-anchor="end" font-style="italic" fill="#444" stroke="#444" stroke-width="0.03">KRAS</text>
<line x1="323.98" y1="275.2" x2="323.98" y2="278.3" stroke="#333" stroke-width="0.9"/>
<text transform="translate(327.28,284.4) rotate(-45)" font-size="6.5" text-anchor="end" font-style="normal" fill="#444" stroke="#444" stroke-width="0.03">16q LOH</text>
<line x1="332.84" y1="275.2" x2="332.84" y2="278.3" stroke="#333" stroke-width="0.9"/>
<text transform="translate(336.14,284.4) rotate(-45)" font-size="6.5" text-anchor="end" font-style="normal" fill="#444" stroke="#444" stroke-width="0.03">3p LOH</text>
<line x1="341.70" y1="275.2" x2="341.70" y2="278.3" stroke="#333" stroke-width="0.9"/>
<text transform="translate(345.00,284.4) rotate(-45)" font-size="6.5" text-anchor="end" font-style="normal" fill="#444" stroke="#444" stroke-width="0.03">13q LOH</text>
<line x1="350.56" y1="275.2" x2="350.56" y2="278.3" stroke="#333" stroke-width="0.9"/>
<text transform="translate(353.86,284.4) rotate(-45)" font-size="6.5" text-anchor="end" font-style="italic" fill="#444" stroke="#444" stroke-width="0.03">NRAS</text>
<line x1="359.42" y1="275.2" x2="359.42" y2="278.3" stroke="#333" stroke-width="0.9"/>
<text transform="translate(362.72,284.4) rotate(-45)" font-size="6.5" text-anchor="end" font-style="italic" fill="#444" stroke="#444" stroke-width="0.03">SETBP1</text>
<line x1="368.29" y1="275.2" x2="368.29" y2="278.3" stroke="#333" stroke-width="0.9"/>
<text transform="translate(371.59,284.4) rotate(-45)" font-size="6.5" text-anchor="end" font-style="normal" fill="#444" stroke="#444" stroke-width="0.03">Gain 21q</text>
<line x1="377.15" y1="275.2" x2="377.15" y2="278.3" stroke="#333" stroke-width="0.9"/>
<text transform="translate(380.45,284.4) rotate(-45)" font-size="6.5" text-anchor="end" font-style="normal" fill="#444" stroke="#444" stroke-width="0.03">3q LOH</text>
<line x1="386.01" y1="275.2" x2="386.01" y2="278.3" stroke="#333" stroke-width="0.9"/>
<text transform="translate(389.31,284.4) rotate(-45)" font-size="6.5" text-anchor="end" font-style="italic" fill="#444" stroke="#444" stroke-width="0.03">ZRSR2</text>
<line x1="394.87" y1="275.2" x2="394.87" y2="278.3" stroke="#333" stroke-width="0.9"/>
<text transform="translate(398.17,284.4) rotate(-45)" font-size="6.5" text-anchor="end" font-style="italic" fill="#444" stroke="#444" stroke-width="0.03">PHF6</text>
<line x1="403.73" y1="275.2" x2="403.73" y2="278.3" stroke="#333" stroke-width="0.9"/>
<text transform="translate(407.03,284.4) rotate(-45)" font-size="6.5" text-anchor="end" font-style="italic" fill="#444" stroke="#444" stroke-width="0.03">CBL</text>
<line x1="412.60" y1="275.2" x2="412.60" y2="278.3" stroke="#333" stroke-width="0.9"/>
<text transform="translate(415.90,284.4) rotate(-45)" font-size="6.5" text-anchor="end" font-style="normal" fill="#444" stroke="#444" stroke-width="0.03">11q LOH</text>
<text x="0" y="0" font-size="1" text-anchor="start" font-weight="normal" font-style="normal" fill="#231f20" stroke="#231f20" stroke-width="0.06" ></text>
<text transform="translate(257.6,314.4) scale(0.72,1)" font-size="8.1" text-anchor="middle" fill="#1a1a1a" stroke="#1a1a1a" stroke-width="0.3">Genetic alterations</text>
<text x="427.2" y="207.0" font-size="5.0" text-anchor="start" font-weight="normal" font-style="normal" fill="#333" stroke="#333" stroke-width="0.06" >Response</text>
<rect x="427.3" y="211.60" width="7.5" height="6.7" fill="#6b3a12"/>
<text x="437.7" y="217.0" font-size="5.6" text-anchor="start" font-weight="normal" font-style="normal" fill="#333" stroke="#333" stroke-width="0.06" >PD</text>
<rect x="427.3" y="219.75" width="7.5" height="6.7" fill="#3bb13f"/>
<text x="437.7" y="225.15" font-size="5.6" text-anchor="start" font-weight="normal" font-style="normal" fill="#333" stroke="#333" stroke-width="0.06" >SD−HI</text>
<rect x="427.3" y="227.90" width="7.5" height="6.7" fill="#3aa7e3"/>
<text x="437.7" y="233.3" font-size="5.6" text-anchor="start" font-weight="normal" font-style="normal" fill="#333" stroke="#333" stroke-width="0.06" >SD+HI</text>
<rect x="427.3" y="236.05" width="7.5" height="6.7" fill="#f7941d"/>
<text x="437.7" y="241.45000000000002" font-size="5.6" text-anchor="start" font-weight="normal" font-style="normal" fill="#333" stroke="#333" stroke-width="0.06" >PR</text>
<rect x="427.3" y="244.20" width="7.5" height="6.7" fill="#e00a84"/>
<text x="437.7" y="249.6" font-size="5.6" text-anchor="start" font-weight="normal" font-style="normal" fill="#333" stroke="#333" stroke-width="0.06" >mCR</text>
<rect x="427.3" y="252.35" width="7.5" height="6.7" fill="#cf0a2c"/>
<text x="437.7" y="257.75" font-size="5.6" text-anchor="start" font-weight="normal" font-style="normal" fill="#333" stroke="#333" stroke-width="0.06" >CR</text>
<line x1="98.1" y1="322.7" x2="419" y2="322.7" stroke="#222" stroke-width="0.9"/>
<line x1="98.1" y1="322.7" x2="98.1" y2="391.3" stroke="#222" stroke-width="0.9"/>
<rect x="99.65" y="325.6" width="7.45" height="62.00" fill="#49556b"/>
<line x1="103.38" y1="319.6" x2="103.38" y2="322.8" stroke="#222" stroke-width="0.9"/>
<rect x="108.51" y="325.6" width="7.45" height="57.20" fill="#49556b"/>
<line x1="112.24" y1="319.6" x2="112.24" y2="322.8" stroke="#222" stroke-width="0.9"/>
<rect x="117.37" y="325.6" width="7.45" height="55.80" fill="#49556b"/>
<line x1="121.10" y1="319.6" x2="121.10" y2="322.8" stroke="#222" stroke-width="0.9"/>
<rect x="126.24" y="325.6" width="7.45" height="50.00" fill="#49556b"/>
<line x1="129.96" y1="319.6" x2="129.96" y2="322.8" stroke="#222" stroke-width="0.9"/>
<rect x="135.10" y="325.6" width="7.45" height="47.90" fill="#49556b"/>
<line x1="138.82" y1="319.6" x2="138.82" y2="322.8" stroke="#222" stroke-width="0.9"/>
<rect x="143.96" y="325.6" width="7.45" height="47.10" fill="#49556b"/>
<line x1="147.69" y1="319.6" x2="147.69" y2="322.8" stroke="#222" stroke-width="0.9"/>
<rect x="152.82" y="325.6" width="7.45" height="38.80" fill="#49556b"/>
<line x1="156.55" y1="319.6" x2="156.55" y2="322.8" stroke="#222" stroke-width="0.9"/>
<rect x="161.68" y="325.6" width="7.45" height="34.00" fill="#49556b"/>
<line x1="165.41" y1="319.6" x2="165.41" y2="322.8" stroke="#222" stroke-width="0.9"/>
<rect x="170.55" y="325.6" width="7.45" height="26.40" fill="#49556b"/>
<line x1="174.27" y1="319.6" x2="174.27" y2="322.8" stroke="#222" stroke-width="0.9"/>
<rect x="179.41" y="325.6" width="7.45" height="25.40" fill="#49556b"/>
<line x1="183.13" y1="319.6" x2="183.13" y2="322.8" stroke="#222" stroke-width="0.9"/>
<rect x="188.27" y="325.6" width="7.45" height="24.20" fill="#49556b"/>
<line x1="192.00" y1="319.6" x2="192.00" y2="322.8" stroke="#222" stroke-width="0.9"/>
<rect x="197.13" y="325.6" width="7.45" height="23.90" fill="#49556b"/>
<line x1="200.86" y1="319.6" x2="200.86" y2="322.8" stroke="#222" stroke-width="0.9"/>
<rect x="205.99" y="325.6" width="7.45" height="22.30" fill="#49556b"/>
<line x1="209.72" y1="319.6" x2="209.72" y2="322.8" stroke="#222" stroke-width="0.9"/>
<rect x="214.86" y="325.6" width="7.45" height="22.10" fill="#49556b"/>
<line x1="218.58" y1="319.6" x2="218.58" y2="322.8" stroke="#222" stroke-width="0.9"/>
<rect x="223.72" y="325.6" width="7.45" height="19.40" fill="#49556b"/>
<line x1="227.44" y1="319.6" x2="227.44" y2="322.8" stroke="#222" stroke-width="0.9"/>
<rect x="232.58" y="325.6" width="7.45" height="17.80" fill="#49556b"/>
<line x1="236.31" y1="319.6" x2="236.31" y2="322.8" stroke="#222" stroke-width="0.9"/>
<rect x="241.44" y="325.6" width="7.45" height="16.90" fill="#49556b"/>
<line x1="245.17" y1="319.6" x2="245.17" y2="322.8" stroke="#222" stroke-width="0.9"/>
<rect x="250.30" y="325.6" width="7.45" height="16.30" fill="#49556b"/>
<line x1="254.03" y1="319.6" x2="254.03" y2="322.8" stroke="#222" stroke-width="0.9"/>
<rect x="259.17" y="325.6" width="7.45" height="15.70" fill="#49556b"/>
<line x1="262.89" y1="319.6" x2="262.89" y2="322.8" stroke="#222" stroke-width="0.9"/>
<rect x="268.03" y="325.6" width="7.45" height="15.00" fill="#49556b"/>
<line x1="271.75" y1="319.6" x2="271.75" y2="322.8" stroke="#222" stroke-width="0.9"/>
<rect x="276.89" y="325.6" width="7.45" height="13.00" fill="#49556b"/>
<line x1="280.62" y1="319.6" x2="280.62" y2="322.8" stroke="#222" stroke-width="0.9"/>
<rect x="285.75" y="325.6" width="7.45" height="13.00" fill="#49556b"/>
<line x1="289.48" y1="319.6" x2="289.48" y2="322.8" stroke="#222" stroke-width="0.9"/>
<rect x="294.61" y="325.6" width="7.45" height="11.90" fill="#49556b"/>
<line x1="298.34" y1="319.6" x2="298.34" y2="322.8" stroke="#222" stroke-width="0.9"/>
<rect x="303.48" y="325.6" width="7.45" height="11.90" fill="#49556b"/>
<line x1="307.20" y1="319.6" x2="307.20" y2="322.8" stroke="#222" stroke-width="0.9"/>
<rect x="312.34" y="325.6" width="7.45" height="11.10" fill="#49556b"/>
<line x1="316.06" y1="319.6" x2="316.06" y2="322.8" stroke="#222" stroke-width="0.9"/>
<rect x="321.20" y="325.6" width="7.45" height="11.10" fill="#49556b"/>
<line x1="324.93" y1="319.6" x2="324.93" y2="322.8" stroke="#222" stroke-width="0.9"/>
<rect x="330.06" y="325.6" width="7.45" height="10.90" fill="#49556b"/>
<line x1="333.79" y1="319.6" x2="333.79" y2="322.8" stroke="#222" stroke-width="0.9"/>
<rect x="338.92" y="325.6" width="7.45" height="10.60" fill="#49556b"/>
<line x1="342.65" y1="319.6" x2="342.65" y2="322.8" stroke="#222" stroke-width="0.9"/>
<rect x="347.79" y="325.6" width="7.45" height="10.60" fill="#49556b"/>
<line x1="351.51" y1="319.6" x2="351.51" y2="322.8" stroke="#222" stroke-width="0.9"/>
<rect x="356.65" y="325.6" width="7.45" height="10.20" fill="#49556b"/>
<line x1="360.37" y1="319.6" x2="360.37" y2="322.8" stroke="#222" stroke-width="0.9"/>
<rect x="365.51" y="325.6" width="7.45" height="10.20" fill="#49556b"/>
<line x1="369.24" y1="319.6" x2="369.24" y2="322.8" stroke="#222" stroke-width="0.9"/>
<rect x="374.37" y="325.6" width="7.45" height="9.60" fill="#49556b"/>
<line x1="378.10" y1="319.6" x2="378.10" y2="322.8" stroke="#222" stroke-width="0.9"/>
<rect x="383.23" y="325.6" width="7.45" height="9.20" fill="#49556b"/>
<line x1="386.96" y1="319.6" x2="386.96" y2="322.8" stroke="#222" stroke-width="0.9"/>
<rect x="392.10" y="325.6" width="7.45" height="9.00" fill="#49556b"/>
<line x1="395.82" y1="319.6" x2="395.82" y2="322.8" stroke="#222" stroke-width="0.9"/>
<rect x="400.96" y="325.6" width="7.45" height="9.00" fill="#49556b"/>
<line x1="404.68" y1="319.6" x2="404.68" y2="322.8" stroke="#222" stroke-width="0.9"/>
<rect x="409.82" y="325.6" width="7.45" height="9.00" fill="#49556b"/>
<line x1="413.55" y1="319.6" x2="413.55" y2="322.8" stroke="#222" stroke-width="0.9"/>
<line x1="95.2" y1="325.6" x2="98.1" y2="325.6" stroke="#222" stroke-width="0.9"/>
<text x="92.0" y="328.0" font-size="6.4" text-anchor="end" font-weight="normal" font-style="normal" fill="#333" stroke="#333" stroke-width="0.14" >0</text>
<line x1="95.2" y1="343.2" x2="98.1" y2="343.2" stroke="#222" stroke-width="0.9"/>
<text x="92.0" y="345.55" font-size="6.4" text-anchor="end" font-weight="normal" font-style="normal" fill="#333" stroke="#333" stroke-width="0.14" >30</text>
<line x1="95.2" y1="360.7" x2="98.1" y2="360.7" stroke="#222" stroke-width="0.9"/>
<text x="92.0" y="363.1" font-size="6.4" text-anchor="end" font-weight="normal" font-style="normal" fill="#333" stroke="#333" stroke-width="0.14" >60</text>
<line x1="95.2" y1="378.2" x2="98.1" y2="378.2" stroke="#222" stroke-width="0.9"/>
<text x="92.0" y="380.65" font-size="6.4" text-anchor="end" font-weight="normal" font-style="normal" fill="#333" stroke="#333" stroke-width="0.14" >90</text>
<text transform="translate(79.4,356.5) rotate(-90) scale(0.68,1)" font-size="8.6" text-anchor="middle" fill="#1a1a1a" stroke="#1a1a1a" stroke-width="0.28">Number of cases</text>
</svg>
<div class="frame"></div>
</body></html>
